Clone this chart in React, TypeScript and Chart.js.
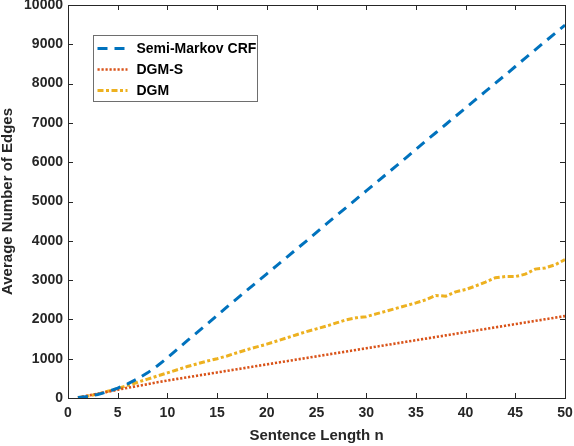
import React, { useEffect, useRef } from "react";
import { Chart, registerables } from "chart.js";

Chart.register(...registerables);

// sentence length n (x axis)
const sentenceLength = [
  1, 2, 3, 4, 5, 6, 7, 8, 9, 10, 11, 12, 13, 14, 15, 16, 17, 18, 19, 20, 21, 22, 23, 24, 25,
  26, 27, 28, 29, 30, 31, 32, 33, 34, 35, 36, 37, 38, 39, 40, 41, 42, 43, 44, 45, 46, 47, 48, 49, 50,
];

const semiMarkovCrf = [
  10, 40, 90, 160, 250, 360, 490, 640, 820, 1020, 1240, 1460, 1670, 1880, 2100, 2320, 2530, 2740, 2950, 3160,
  3370, 3580, 3790, 4000, 4215, 4430, 4640, 4850, 5060, 5270, 5480, 5690, 5900, 6110, 6325, 6540, 6750, 6960,
  7170, 7380, 7590, 7800, 8010, 8220, 8435, 8650, 8860, 9070, 9280, 9490,
];

const dgmS = [
  10, 60, 110, 160, 210, 260, 305, 350, 400, 445, 486, 527, 568, 609, 650, 691, 732, 773, 814, 855,
  896, 937, 978, 1019, 1060, 1101, 1142, 1183, 1224, 1265, 1306, 1347, 1388, 1429, 1470, 1511, 1552, 1593,
  1634, 1675, 1716, 1757, 1798, 1839, 1880, 1921, 1962, 2003, 2044, 2085,
];

const dgm = [
  10, 50, 100, 170, 240, 320, 400, 480, 560, 640, 720, 800, 870, 940, 1000, 1070, 1150, 1230, 1300, 1370,
  1450, 1530, 1610, 1690, 1760, 1830, 1910, 1990, 2040, 2070, 2140, 2210, 2280, 2350, 2420, 2500, 2610, 2590,
  2700, 2760, 2850, 2950, 3060, 3090, 3090, 3150, 3280, 3310, 3390, 3520,
];

const xTicks = [0, 5, 10, 15, 20, 25, 30, 35, 40, 45, 50];
const yTicks = [0, 1000, 2000, 3000, 4000, 5000, 6000, 7000, 8000, 9000, 10000];

const seriesNames = ["Semi-Markov CRF", "DGM-S", "DGM"];

const FONT = "'Liberation Sans', Arial, Helvetica, sans-serif";
const INK = "#262626";

// MATLAB style box with inward ticks on all four sides
const boxPlugin = {
  id: "matlabBox",
  afterDraw(chart: any) {
    const { ctx, chartArea, scales } = chart;
    const { left, right, top, bottom } = chartArea;
    const len = 5;
    ctx.save();
    ctx.strokeStyle = INK;
    ctx.lineWidth = 1;
    ctx.beginPath();
    for (const v of xTicks) {
      const px = Math.round(scales.x.getPixelForValue(v)) + 0.5;
      ctx.moveTo(px, bottom);
      ctx.lineTo(px, bottom - len);
      ctx.moveTo(px, top);
      ctx.lineTo(px, top + len);
    }
    for (const v of yTicks) {
      const py = Math.round(scales.y.getPixelForValue(v)) + 0.5;
      ctx.moveTo(left, py);
      ctx.lineTo(left + len, py);
      ctx.moveTo(right, py);
      ctx.lineTo(right - len, py);
    }
    ctx.stroke();
    ctx.strokeRect(Math.round(left) + 0.5, Math.round(top) + 0.5, Math.round(right - left), Math.round(bottom - top));
    ctx.restore();
  },
};

// legend box inside the axes, upper left
const legendPlugin = {
  id: "insideLegend",
  afterDraw(chart: any) {
    const { ctx, chartArea } = chart;
    const bx = chartArea.left + 25.5;
    const by = chartArea.top + 30.5;
    const bw = 164;
    const bh = 66;
    ctx.save();
    ctx.fillStyle = "#ffffff";
    ctx.fillRect(bx, by, bw, bh);
    ctx.strokeStyle = "#6e6e6e";
    ctx.lineWidth = 1;
    ctx.strokeRect(bx, by, bw, bh);
    chart.data.datasets.forEach((ds: any, i: number) => {
      const cy = by + 13 + i * 21;
      ctx.strokeStyle = ds.borderColor;
      ctx.lineWidth = ds.borderWidth;
      ctx.setLineDash(ds.borderDash || []);
      ctx.beginPath();
      ctx.moveTo(bx + 4, cy);
      ctx.lineTo(bx + 34, cy);
      ctx.stroke();
      ctx.setLineDash([]);
      ctx.fillStyle = "#000000";
      ctx.font = `bold 14px ${FONT}`;
      ctx.textBaseline = "middle";
      ctx.textAlign = "left";
      ctx.fillText(ds.label, bx + 43, cy + 1);
    });
    ctx.restore();
  },
};

const App = () => {
  const chartRef = useRef<HTMLCanvasElement | null>(null);
  const chartInstanceRef = useRef<Chart | null>(null);

  useEffect(() => {
    const ctx = chartRef.current?.getContext("2d");
    if (!ctx) return;

    if (chartInstanceRef.current) {
      chartInstanceRef.current.destroy();
    }

    const toPoints = (values: number[]) => values.map((v, i) => ({ x: sentenceLength[i], y: v }));

    chartInstanceRef.current = new Chart(ctx, {
      type: "line",
      data: {
        datasets: [
          {
            label: seriesNames[0],
            data: toPoints(semiMarkovCrf),
            borderColor: "#0072BD",
            borderWidth: 3,
            borderDash: [10, 7],
            pointRadius: 0,
            fill: false,
          },
          {
            label: seriesNames[1],
            data: toPoints(dgmS),
            borderColor: "#D95319",
            borderWidth: 2.6,
            borderDash: [2.2, 1.8],
            pointRadius: 0,
            fill: false,
          },
          {
            label: seriesNames[2],
            data: toPoints(dgm),
            borderColor: "#EDB120",
            borderWidth: 3,
            borderDash: [6, 2.5, 3, 2.5],
            pointRadius: 0,
            fill: false,
          },
        ],
      },
      options: {
        animation: false,
        responsive: true,
        maintainAspectRatio: false,
        layout: { padding: { left: 0, top: 5, right: 9, bottom: 0 } },
        scales: {
          x: {
            type: "linear",
            min: 0,
            max: 50,
            afterFit: (scale: any) => {
              scale.height = 48;
              scale.paddingLeft = 0;
              scale.paddingRight = 0;
            },
            afterBuildTicks: (scale: any) => {
              scale.ticks = xTicks.map((v) => ({ value: v }));
            },
            grid: { display: false, drawTicks: false },
            border: { display: false },
            ticks: {
              padding: 7,
              color: INK,
              font: { family: FONT, size: 14, weight: "bold" },
              maxRotation: 0,
            },
            title: {
              display: true,
              text: "Sentence Length n",
              color: INK,
              font: { family: FONT, size: 15, weight: "bold", lineHeight: 1.2 },
              padding: { top: 0, bottom: 1 },
            },
          },
          y: {
            type: "linear",
            min: 0,
            max: 10000,
            afterFit: (scale: any) => {
              scale.width = 68;
              scale.paddingTop = 0;
              scale.paddingBottom = 0;
            },
            afterBuildTicks: (scale: any) => {
              scale.ticks = yTicks.map((v) => ({ value: v }));
            },
            grid: { display: false, drawTicks: false },
            border: { display: false },
            ticks: {
              padding: 5,
              color: INK,
              font: { family: FONT, size: 14, weight: "bold" },
              callback: (v: any) => String(v),
            },
            title: {
              display: true,
              text: "Average Number of Edges",
              color: INK,
              font: { family: FONT, size: 15, weight: "bold", lineHeight: 1.1 },
              padding: { top: 0, bottom: 0 },
            },
          },
        },
        plugins: {
          legend: { display: false },
          tooltip: { enabled: false },
        },
      },
      plugins: [boxPlugin, legendPlugin],
    });

    return () => {
      if (chartInstanceRef.current) {
        chartInstanceRef.current.destroy();
        chartInstanceRef.current = null;
      }
    };
  }, []);

  return (
    <div style={{ position: "fixed", left: 0, top: 0, width: 574, height: 446, background: "#fff" }}>
      <canvas ref={chartRef}></canvas>
    </div>
  );
};

export default App;
